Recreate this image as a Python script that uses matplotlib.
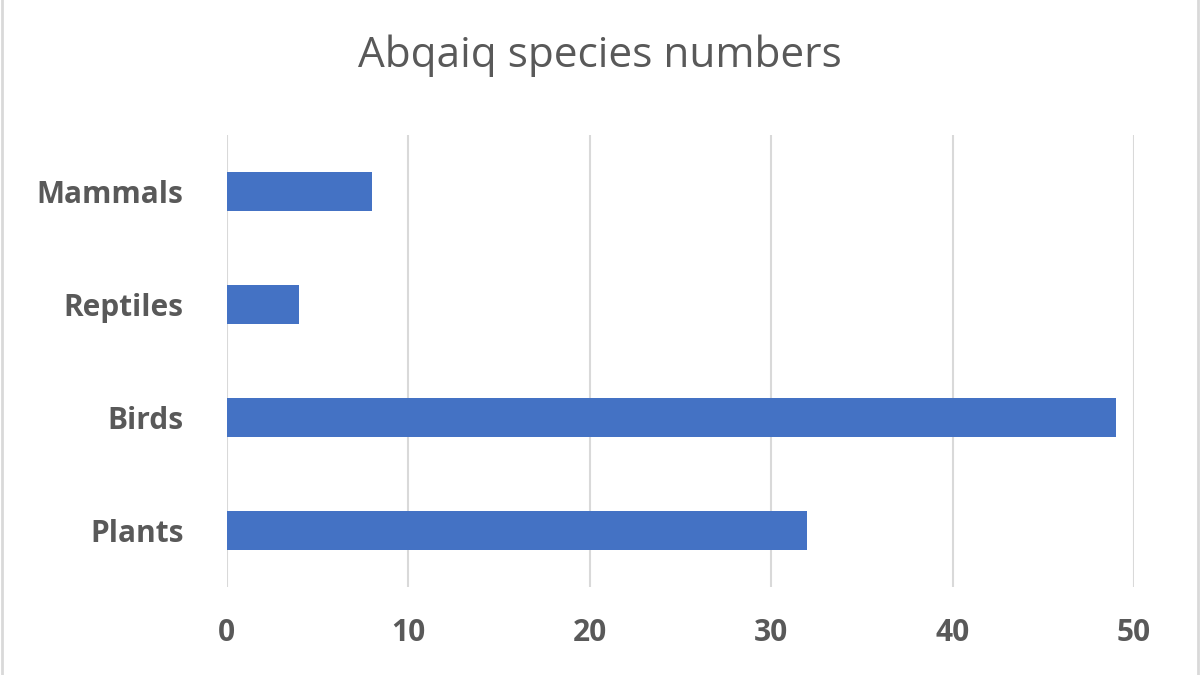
import matplotlib
matplotlib.use('Agg')
import matplotlib.pyplot as plt
from matplotlib.lines import Line2D

# data
categories = ['Plants', 'Birds', 'Reptiles', 'Mammals']
species = [32, 49, 4, 8]
xTicks = [0, 10, 20, 30, 40, 50]

plt.rcParams['font.family'] = ['Open Sans', 'DejaVu Sans']

fig = plt.figure(figsize=(12, 6.75), dpi=100)
ax = fig.add_axes([0.189, 0.130, 0.756, 0.670])

ax.grid(axis='x', color='#d9d9d9', linewidth=1.5, zorder=0)
ax.barh(range(len(categories)), species, height=0.34, color='#4472C4', zorder=2)

ax.set_xlim(0, 50)
ax.set_ylim(-0.5, len(categories) - 0.5)
ax.set_xticks(xTicks)
ax.set_yticks(range(len(categories)))
ax.set_yticklabels(categories)

for s in ax.spines.values():
    s.set_visible(False)
ax.tick_params(length=0, colors='#595959', labelsize=21.5)
ax.tick_params(axis='x', pad=22)
ax.tick_params(axis='y', pad=31)
for lbl in ax.get_xticklabels() + ax.get_yticklabels():
    lbl.set_fontweight('bold')

fig.text(0.5, 0.917, 'Abqaiq species numbers', ha='center', va='center',
         fontsize=30.5, color='#595959')

# chart frame edges
fig.add_artist(Line2D([0.002, 0.002], [0, 1], color='#d9d9d9', linewidth=2, transform=fig.transFigure))
fig.add_artist(Line2D([0.998, 0.998], [0, 1], color='#d9d9d9', linewidth=2, transform=fig.transFigure))

fig.savefig('out.png', dpi=100)
